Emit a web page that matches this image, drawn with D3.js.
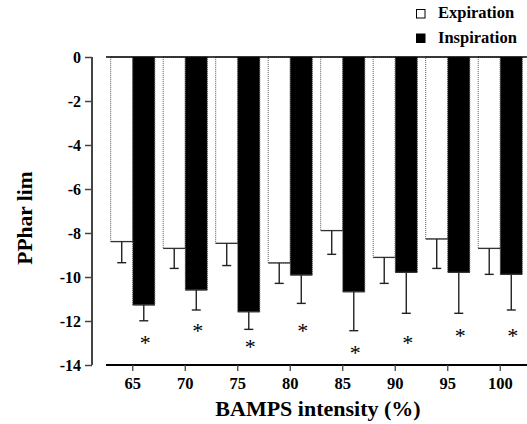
<!DOCTYPE html>
<html>
<head>
<meta charset="utf-8">
<script src="https://cdn.jsdelivr.net/npm/d3@7"></script>
<style>
  body { margin: 0; background: #fff; }
  text { font-family: "Liberation Serif", "DejaVu Serif", "Times New Roman", serif; font-weight: bold; fill: #000; }
</style>
</head>
<body>
<div id="chart"></div>
<script>
// values
let intensity = ["65", "70", "75", "80", "85", "90", "95", "100"];
let series = ["Expiration", "Inspiration"];
let expiration = [-8.39, -8.70, -8.47, -9.36, -7.89, -9.11, -8.27, -8.70];
let expiration_err = [0.96, 0.91, 1.01, 0.93, 1.08, 1.18, 1.34, 1.18];
let inspiration = [-11.27, -10.59, -11.58, -9.91, -10.67, -9.79, -9.79, -9.88];
let inspiration_err = [0.72, 0.91, 0.80, 1.29, 1.77, 1.86, 1.86, 1.62];
let star_pos = [-12.86, -12.32, -13.05, -12.32, -13.32, -12.86, -12.53, -12.53];
let y_ticks = [0, -2, -4, -6, -8, -10, -12, -14];

let serif = "'Liberation Serif', 'DejaVu Serif', 'Times New Roman', serif";
let svg_width = 527;
let svg_height = 424;

let svg = d3.select("#chart")
  .append("svg")
  .attr("width", svg_width)
  .attr("height", svg_height);

let y_scale = d3.scaleLinear()
  .domain([0, -14])
  .range([57, 365]);

let x_scale = d3.scaleBand()
  .domain(intensity)
  .range([106.5, 526.5]);

let bar_w = x_scale.bandwidth() * 0.42;
let sub_scale = d3.scaleBand()
  .domain(series)
  .range([-bar_w, bar_w]);

let rows = intensity.map(function (d, i) {
  return [
    { cat: d, s: "Expiration", v: expiration[i], e: expiration_err[i] },
    { cat: d, s: "Inspiration", v: inspiration[i], e: inspiration_err[i] }
  ];
}).flat();

let cx = function (d) {
  return x_scale(d.cat) + x_scale.bandwidth() / 2 + sub_scale(d.s) + sub_scale.bandwidth() / 2;
};

// bars
let bars = svg.append("g");
bars.selectAll("rect")
  .data(rows)
  .join("rect")
  .attr("x", d => x_scale(d.cat) + x_scale.bandwidth() / 2 + sub_scale(d.s))
  .attr("y", y_scale(0))
  .attr("width", sub_scale.bandwidth())
  .attr("height", d => y_scale(d.v) - y_scale(0))
  .attr("fill", d => d.s == "Expiration" ? "#fff" : "#000")
  .attr("stroke", "#555")
  .attr("stroke-width", 1)
  .attr("stroke-dasharray", "1,1");

// solid bottom edge of the bars
bars.selectAll("line")
  .data(rows)
  .join("line")
  .attr("x1", d => x_scale(d.cat) + x_scale.bandwidth() / 2 + sub_scale(d.s))
  .attr("x2", d => x_scale(d.cat) + x_scale.bandwidth() / 2 + sub_scale(d.s) + sub_scale.bandwidth())
  .attr("y1", d => y_scale(d.v))
  .attr("y2", d => y_scale(d.v))
  .attr("stroke", "#333")
  .attr("stroke-width", 1.3);

// error bars
let errs = svg.append("g")
  .attr("stroke", "#222")
  .attr("stroke-width", 1.4);
errs.selectAll(".whisk")
  .data(rows)
  .join("line")
  .attr("class", "whisk")
  .attr("x1", cx)
  .attr("x2", cx)
  .attr("y1", d => y_scale(d.v))
  .attr("y2", d => y_scale(d.v - d.e));
errs.selectAll(".cap")
  .data(rows)
  .join("line")
  .attr("class", "cap")
  .attr("x1", d => cx(d) - 4.5)
  .attr("x2", d => cx(d) + 4.5)
  .attr("y1", d => y_scale(d.v - d.e))
  .attr("y2", d => y_scale(d.v - d.e));

// stars
svg.append("g")
  .selectAll("text")
  .data(intensity)
  .join("text")
  .attr("x", (d, i) => cx({ cat: d, s: "Inspiration" }) + 1.5)
  .attr("y", (d, i) => y_scale(star_pos[i]) + 10)
  .attr("text-anchor", "middle")
  .style("font-size", "22px")
  .style("font-weight", "normal")
  .text("*");

// zero line
svg.append("line")
  .attr("x1", 106)
  .attr("x2", 527)
  .attr("y1", y_scale(0))
  .attr("y2", y_scale(0))
  .attr("stroke", "#000")
  .attr("stroke-width", 1.5);

// y axis
let y_axis = svg.append("g")
  .attr("transform", "translate(92,0)")
  .call(d3.axisLeft(y_scale).tickValues(y_ticks).tickSize(7).tickPadding(4).tickFormat(d3.format("d")));
y_axis.attr("font-family", serif);
y_axis.select(".domain").attr("stroke", "#444").attr("stroke-width", 2)
  .attr("d", "M0," + y_scale(0) + "V" + y_scale(-14));
y_axis.selectAll(".tick line").attr("stroke", "#444").attr("stroke-width", 1.5);
y_axis.selectAll(".tick text")
  .style("font-size", "16px")
  .text(d => d == 0 ? "0" : "-" + Math.abs(d));

// x axis
let x_axis = svg.append("g")
  .attr("transform", "translate(0," + y_scale(-14) + ")")
  .call(d3.axisBottom(x_scale).tickSize(6).tickPadding(6));
x_axis.attr("font-family", serif);
x_axis.select(".domain").attr("stroke", "#000").attr("stroke-width", 2)
  .attr("d", "M106,0H527");
x_axis.selectAll(".tick line").attr("stroke", "#444").attr("stroke-width", 1.3);
x_axis.selectAll(".tick text")
  .style("font-size", "16.5px");

// axis titles
svg.append("text")
  .attr("x", 318)
  .attr("y", 416)
  .attr("text-anchor", "middle")
  .style("font-size", "22px")
  .text("BAMPS intensity (%)");

svg.append("text")
  .attr("transform", "translate(32,218) rotate(-90)")
  .attr("text-anchor", "middle")
  .style("font-size", "21.5px")
  .text("PPhar lim");

// legend
let legend = svg.append("g")
  .selectAll("g")
  .data(series)
  .join("g")
  .attr("transform", (d, i) => "translate(416," + (9 + i * 24.5) + ")");
legend.append("rect")
  .attr("x", 0.5)
  .attr("y", 0.5)
  .attr("width", 8.5)
  .attr("height", 8.5)
  .attr("fill", d => d == "Expiration" ? "#fff" : "#000")
  .attr("stroke", "#000")
  .attr("stroke-width", 1);
legend.append("text")
  .attr("x", 22)
  .attr("y", 9)
  .style("font-size", "16.5px")
  .text(d => d);
</script>
</body>
</html>
